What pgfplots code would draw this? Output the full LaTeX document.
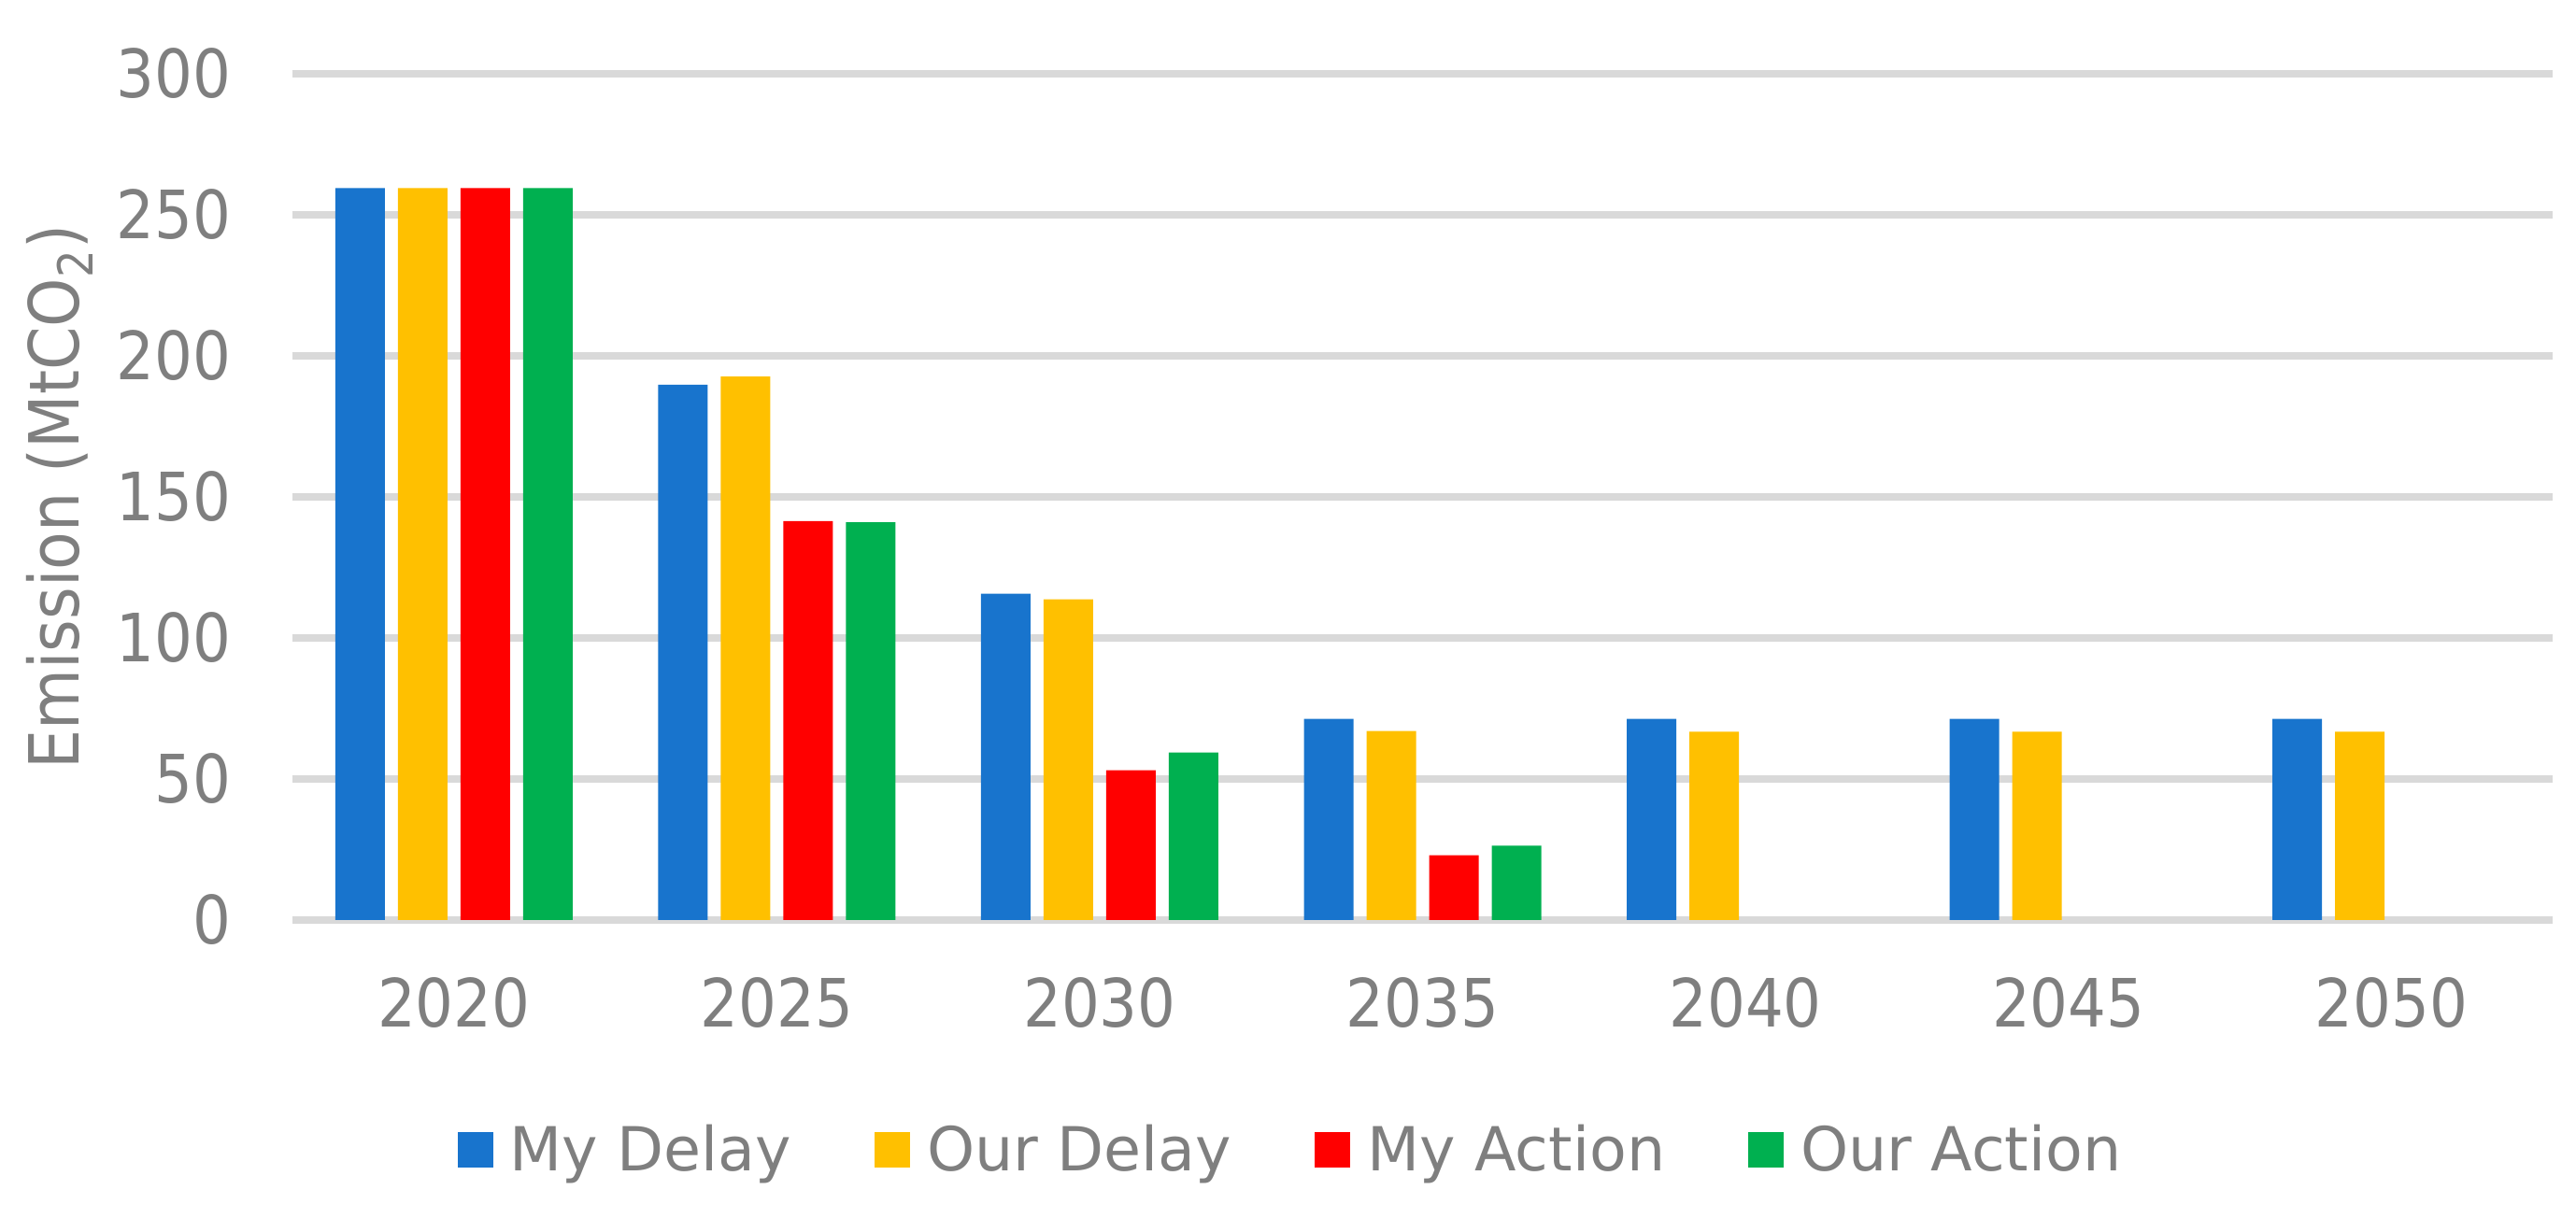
\documentclass[border=0pt]{standalone}
\usepackage{fontspec}
\setmainfont{DejaVu Sans}
\newfontfamily\condfont{DejaVu Sans Condensed}
\usepackage{pgfplots}
\pgfplotsset{compat=1.18}
\definecolor{cblue}{HTML}{1874CD}
\definecolor{cyellow}{HTML}{FFC000}
\definecolor{cred}{HTML}{FF0000}
\definecolor{cgreen}{HTML}{00B050}
\definecolor{cgrid}{HTML}{D9D9D9}
\definecolor{cgray}{HTML}{7F7F7F}
\begin{document}
\begin{tikzpicture}
\useasboundingbox (0,0) rectangle (827.1pt,390.9pt);
\begin{axis}[
  at={(93.9pt,95.4pt)}, anchor=south west,
  scale only axis, width=725.7pt, height=271.8pt,
  xmin=-0.5, xmax=6.5, ymin=0, ymax=300,
  ybar=4.2pt, bar width=15.9pt,
  axis line style={draw=none}, major tick length=0pt,
  ymajorgrids, grid style={draw=cgrid, line width=2.2pt},
  ytick={0,50,...,300}, xtick={0,...,6},
  xticklabels={2020,2025,2030,2035,2040,2045,2050},
  /pgf/number format/assume math mode=true,
  tick label style={font=\condfont\fontsize{21.4}{25}\selectfont, text=cgray, inner sep=0pt},
  yticklabel style={anchor=east, xshift=-19.5pt},
  xticklabel style={anchor=north, yshift=-18.3pt},
  ylabel={Emission (MtCO\textsubscript{2})},
  ylabel style={at={(axis description cs:-0.1029,0.5)}, rotate=0, anchor=center, font=\condfont\fontsize{22.2}{26}\selectfont, text=cgray, inner sep=0pt},
  clip=false,
  legend columns=4,
  legend style={at={(0.4411,-0.2715)}, anchor=center, draw=none, fill=none,
    font=\fontsize{19.5}{23}\selectfont, text=cgray,
    nodes={inner sep=0pt},
    /tikz/every even column/.append style={column sep=26.7pt},
    /tikz/every odd column/.append style={column sep=5.4pt}},
  every axis plot post/.append style={legend image code/.code={\fill[##1] (0pt,-5.7pt) rectangle (11.4pt,5.7pt);}},
]
\addplot[fill=cblue, draw=none] coordinates {(0,259.5) (1,189.8) (2,115.7) (3,71.3) (4,71.3) (5,71.3) (6,71.3)};
\addlegendentry{My Delay}
\addplot[fill=cyellow, draw=none] coordinates {(0,259.5) (1,192.7) (2,113.7) (3,67.0) (4,66.8) (5,66.8) (6,66.8)};
\addlegendentry{Our Delay}
\addplot[fill=cred, draw=none] coordinates {(0,259.5) (1,141.4) (2,53.1) (3,23.0)};
\addlegendentry{My Action}
\addplot[fill=cgreen, draw=none] coordinates {(0,259.5) (1,141.0) (2,59.4) (3,26.4)};
\addlegendentry{Our Action}
\end{axis}
\end{tikzpicture}
\end{document}
